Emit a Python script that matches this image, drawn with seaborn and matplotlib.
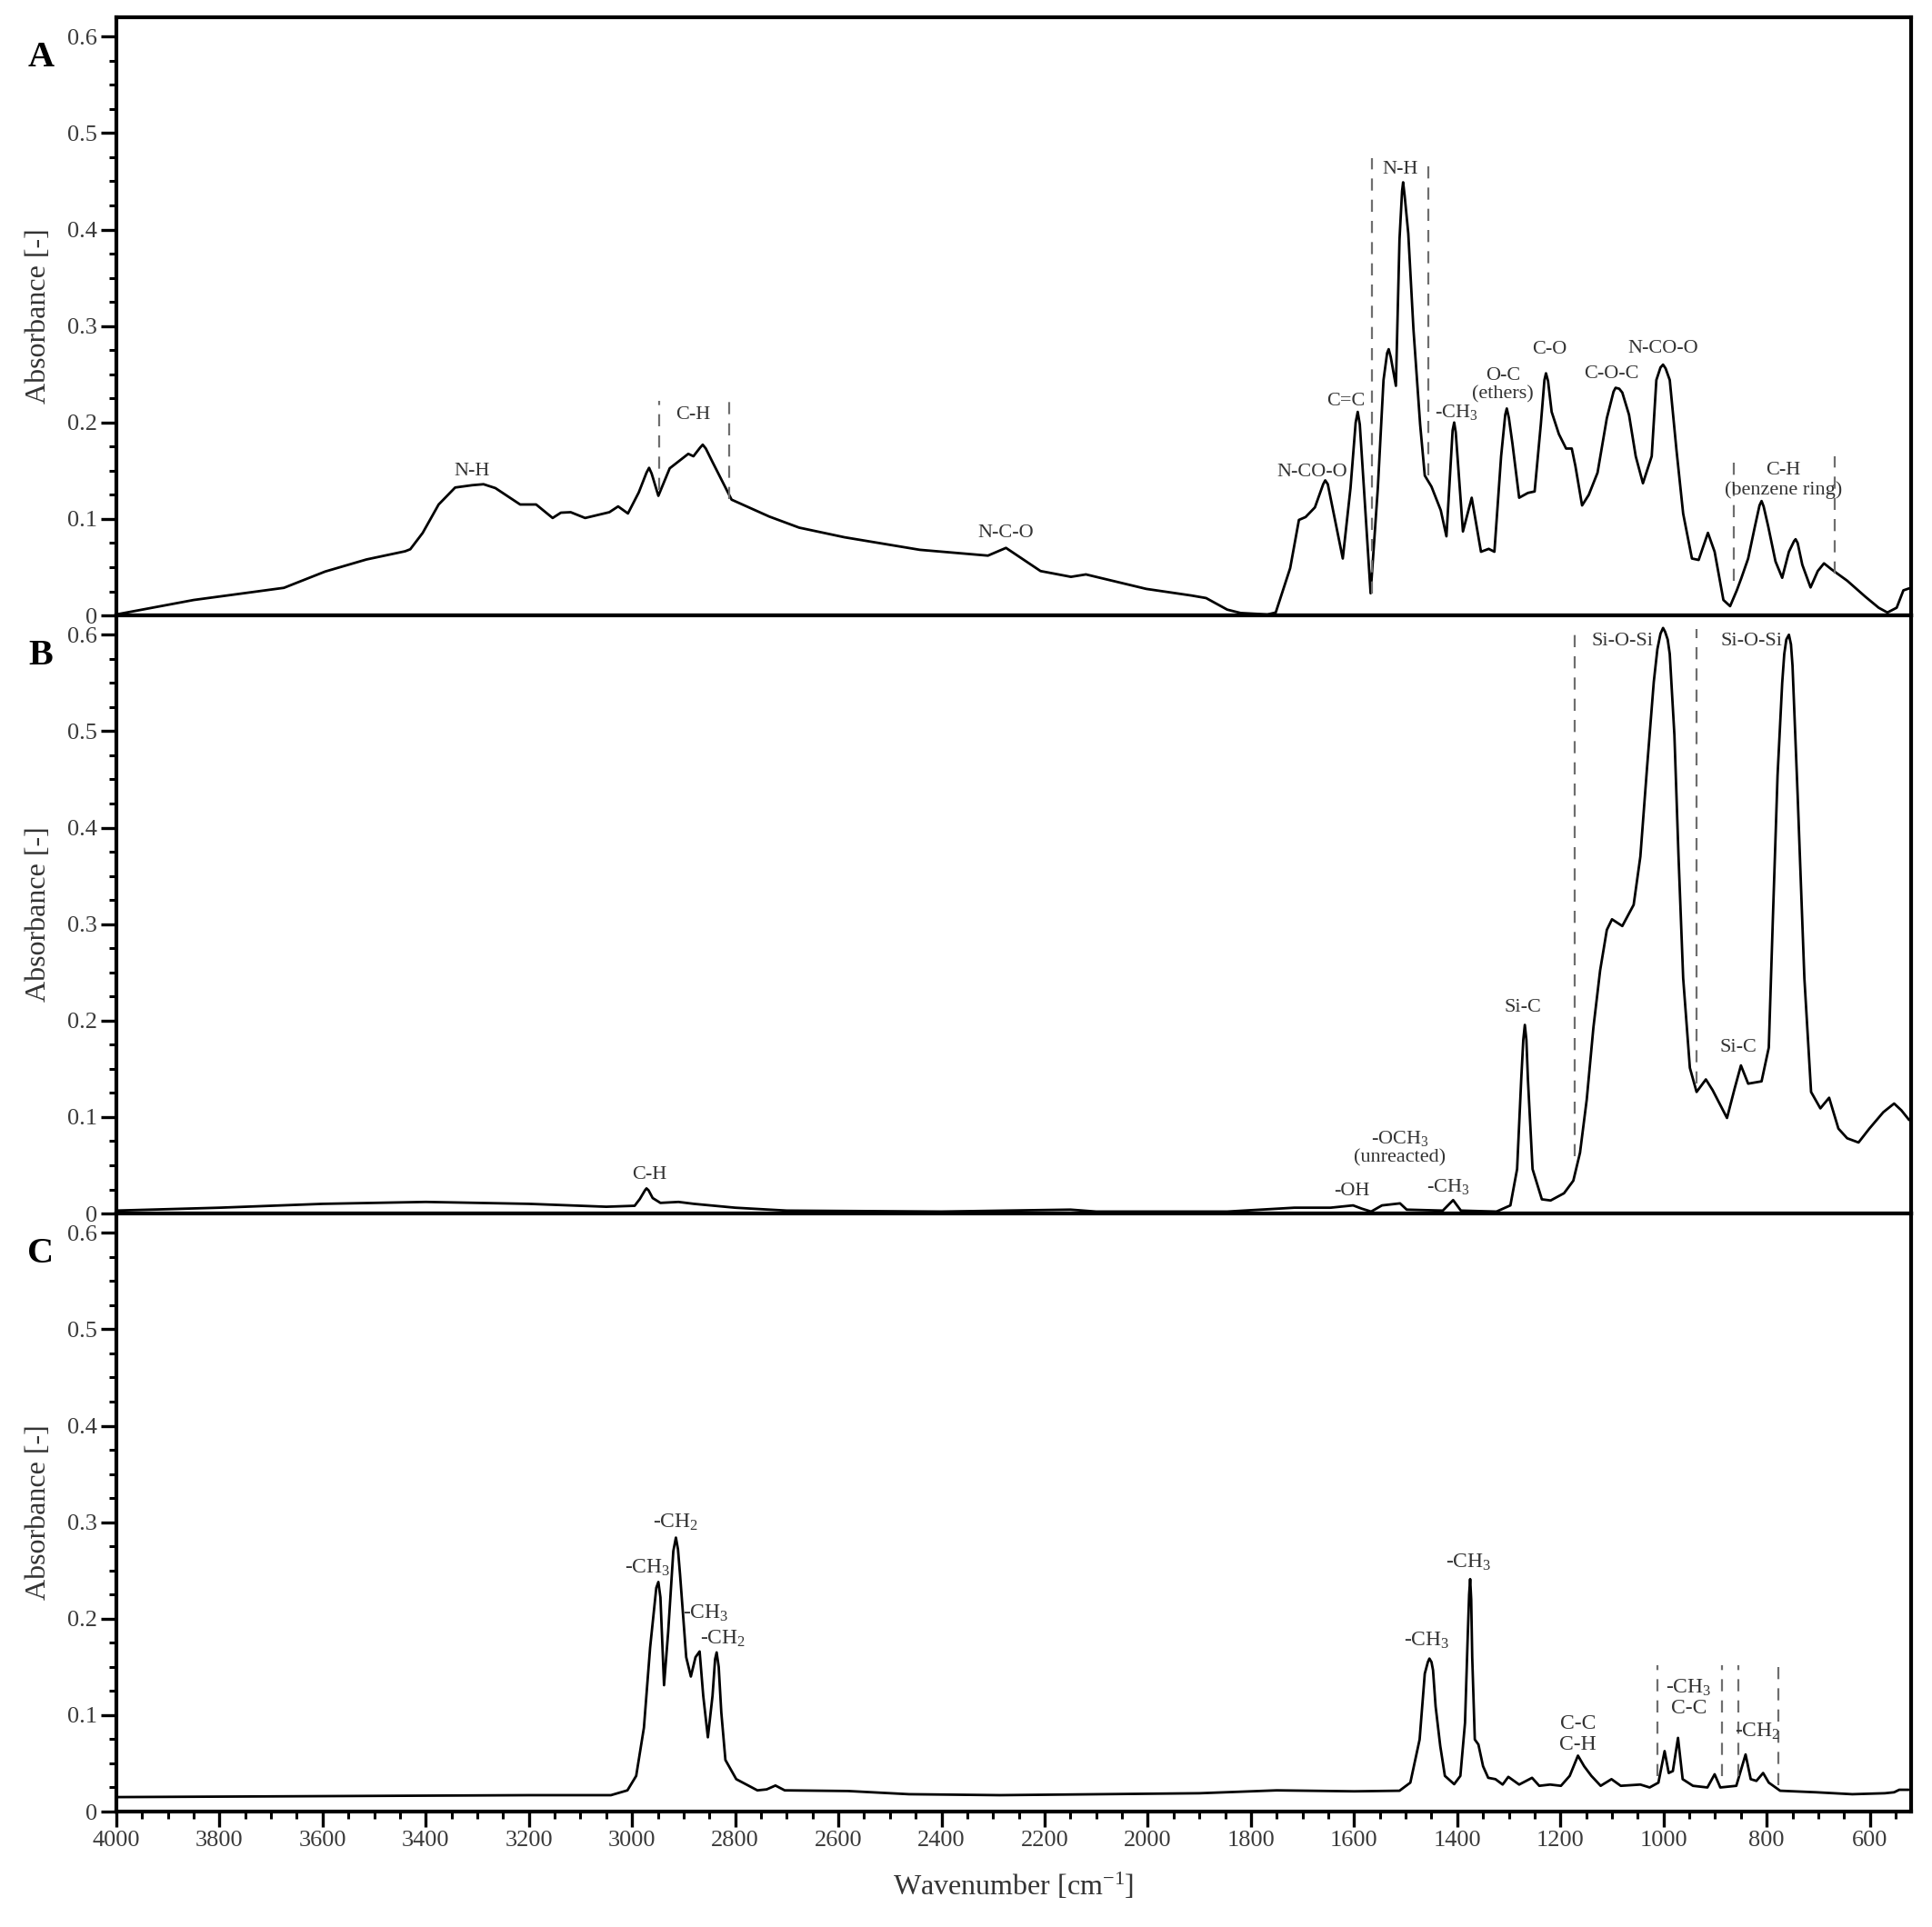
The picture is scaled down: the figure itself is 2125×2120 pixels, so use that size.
import matplotlib
matplotlib.use("Agg")
import matplotlib.pyplot as plt
import seaborn as sns
import pandas as pd
from matplotlib.ticker import MultipleLocator, FixedLocator, FixedFormatter

# ---- spectrum A ----
wn_a = [4000, 3850, 3675, 3595, 3515, 3440, 3430, 3406, 3375, 3343, 3310, 3288, 3265, 3217, 3186,
        3154, 3138, 3119, 3091, 3044, 3027, 3008, 2987, 2972, 2967, 2962, 2949, 2927, 2891, 2881,
        2868, 2863, 2857, 2844, 2807, 2734, 2676, 2588, 2442, 2310, 2275, 2208, 2149, 2120, 2003,
        1915, 1887, 1846, 1820, 1768, 1752, 1724, 1707, 1694, 1676, 1660, 1656, 1651, 1637, 1622,
        1607, 1597, 1593, 1589, 1581, 1568, 1554, 1543, 1536, 1533, 1529, 1519, 1512, 1507, 1505,
        1502, 1495, 1485, 1472, 1463, 1450, 1432, 1421, 1409, 1406, 1403, 1389, 1372, 1354, 1339,
        1328, 1315, 1307, 1304, 1300, 1293, 1280, 1263, 1250, 1238, 1231, 1228, 1224, 1217, 1203,
        1189, 1178, 1171, 1158, 1145, 1128, 1110, 1097, 1093, 1086, 1080, 1067, 1054, 1040, 1023,
        1014, 1006, 1001, 996, 988, 975, 962, 945, 932, 914, 901, 884, 871, 858, 849,
        836, 823, 814, 810, 806, 797, 783, 770, 757, 747, 744, 740, 731, 715, 701,
        689, 674, 644, 609, 583, 566, 548, 535, 524]
abs_a = [0.001, 0.016, 0.0286, 0.0455, 0.058, 0.0665, 0.0686, 0.0855, 0.115, 0.1326, 0.135, 0.136, 0.132, 0.115, 0.115,
         0.101, 0.1065, 0.107, 0.101, 0.107, 0.113, 0.1057, 0.1275, 0.148, 0.153, 0.147, 0.124, 0.1525, 0.1675, 0.165,
         0.174, 0.177, 0.173, 0.159, 0.12, 0.1025, 0.091, 0.081, 0.068, 0.062, 0.070, 0.046, 0.040, 0.0425, 0.0275,
         0.0206, 0.018, 0.006, 0.0025, 0.001, 0.003, 0.049, 0.099, 0.102, 0.112, 0.136, 0.140, 0.136, 0.099, 0.059,
         0.132, 0.200, 0.211, 0.198, 0.132, 0.023, 0.132, 0.244, 0.272, 0.276, 0.268, 0.238, 0.390, 0.440, 0.449,
         0.435, 0.396, 0.297, 0.198, 0.145, 0.1335, 0.109, 0.082, 0.192, 0.200, 0.190, 0.087, 0.122, 0.066, 0.069,
         0.066, 0.165, 0.208, 0.2145, 0.205, 0.178, 0.122, 0.127, 0.1285, 0.198, 0.244, 0.251, 0.243, 0.211, 0.188,
         0.173, 0.173, 0.155, 0.114, 0.125, 0.148, 0.2045, 0.232, 0.236, 0.235, 0.231, 0.208, 0.165, 0.137, 0.165,
         0.244, 0.257, 0.260, 0.256, 0.244, 0.1715, 0.1055, 0.059, 0.0575, 0.0856, 0.066, 0.016, 0.0096, 0.026, 0.039,
         0.059, 0.092, 0.114, 0.1186, 0.113, 0.092, 0.056, 0.039, 0.066, 0.077, 0.079, 0.075, 0.0525, 0.029, 0.046,
         0.054, 0.0476, 0.036, 0.0195, 0.008, 0.003, 0.008, 0.026, 0.028]

# ---- spectrum B ----
wn_b = [4000, 3800, 3600, 3400, 3200, 3050, 2995, 2985, 2975, 2972, 2968, 2960, 2945, 2910, 2880,
        2800, 2700, 2400, 2150, 2100, 1846, 1716, 1646, 1602, 1585, 1567, 1546, 1511, 1498, 1428,
        1408, 1393, 1324, 1297, 1284, 1276, 1272, 1269, 1266, 1263, 1254, 1236, 1219, 1193, 1175,
        1162, 1149, 1136, 1123, 1110, 1100, 1080, 1058, 1045, 1032, 1019, 1012, 1006, 1001, 997,
        992, 988, 979, 971, 962, 949, 936, 918, 905, 877, 862, 850, 836, 810, 796,
        788, 779, 770, 766, 762, 757, 753, 750, 740, 727, 714, 696, 679, 661, 644,
        622, 601, 574, 553, 539, 524]
abs_b = [0.003, 0.006, 0.010, 0.012, 0.010, 0.007, 0.008, 0.015, 0.024, 0.026, 0.024, 0.016, 0.011, 0.012, 0.010,
         0.006, 0.003, 0.002, 0.004, 0.002, 0.002, 0.006, 0.006, 0.0084, 0.005, 0.002, 0.0084, 0.0105, 0.004, 0.003,
         0.0139, 0.003, 0.002, 0.0084, 0.046, 0.139, 0.180, 0.1955, 0.180, 0.139, 0.046, 0.0147, 0.0135, 0.021, 0.034,
         0.063, 0.118, 0.193, 0.252, 0.294, 0.305, 0.298, 0.320, 0.370, 0.4626, 0.551, 0.585, 0.601, 0.607, 0.603,
         0.595, 0.580, 0.496, 0.370, 0.244, 0.151, 0.126, 0.139, 0.128, 0.099, 0.130, 0.1535, 0.1346, 0.137, 0.172,
         0.307, 0.454, 0.550, 0.580, 0.595, 0.600, 0.590, 0.568, 0.433, 0.244, 0.126, 0.109, 0.12, 0.088, 0.078,
         0.0736, 0.088, 0.105, 0.114, 0.107, 0.097]

# ---- spectrum C ----
wn_c = [4000, 3600, 3200, 3041, 3009, 2992, 2977, 2965, 2953, 2949, 2945, 2938, 2930, 2920, 2915,
        2911, 2907, 2895, 2886, 2877, 2869, 2862, 2853, 2844, 2839, 2836, 2832, 2827, 2819, 2798,
        2757, 2739, 2722, 2704, 2581, 2463, 2287, 1900, 1750, 1600, 1512, 1491, 1473, 1463, 1457,
        1454, 1450, 1447, 1442, 1433, 1424, 1406, 1394, 1385, 1380, 1377, 1375, 1373, 1371, 1366,
        1359, 1350, 1340, 1326, 1312, 1301, 1280, 1255, 1241, 1220, 1199, 1182, 1166, 1154, 1140,
        1122, 1101, 1083, 1045, 1027, 1010, 998, 990, 982, 972, 963, 943, 915, 901, 890,
        859, 841, 831, 820, 807, 796, 774, 704, 634, 571, 553, 543, 525]
abs_c = [0.015, 0.016, 0.017, 0.017, 0.022, 0.037, 0.087, 0.170, 0.232, 0.238, 0.222, 0.131, 0.186, 0.270, 0.284,
         0.272, 0.246, 0.160, 0.140, 0.160, 0.166, 0.120, 0.077, 0.120, 0.158, 0.165, 0.150, 0.103, 0.0535, 0.0336,
         0.022, 0.023, 0.027, 0.022, 0.0213, 0.018, 0.017, 0.019, 0.022, 0.021, 0.0216, 0.030, 0.0747, 0.143, 0.155,
         0.1586, 0.155, 0.1466, 0.109, 0.068, 0.037, 0.0284, 0.037, 0.092, 0.177, 0.225, 0.241, 0.220, 0.160, 0.0747,
         0.0695, 0.047, 0.035, 0.0336, 0.028, 0.036, 0.028, 0.035, 0.0267, 0.028, 0.0267, 0.037, 0.058, 0.047, 0.037,
         0.0267, 0.0336, 0.0267, 0.028, 0.025, 0.030, 0.0627, 0.040, 0.042, 0.0764, 0.0336, 0.0267, 0.025, 0.0387, 0.025,
         0.0267, 0.0592, 0.0336, 0.0318, 0.040, 0.030, 0.0216, 0.020, 0.018, 0.019, 0.020, 0.0226, 0.0226]

# band labels: text, wavenumber, absorbance
labels_a = ["N-H", "C-H", "N-C-O", "N-CO-O", "C=C", "N-H", "-CH$_3$", "O-C\n(ethers)", "C-O",
            "C-O-C", "N-CO-O", "C-H\n(benzene ring)"]
lab_wn_a = [3311, 2881, 2275, 1681, 1616, 1511, 1402, 1311, 1221, 1101, 1001, 768]
lab_y_a = [0.149, 0.208, 0.085, 0.148, 0.222, 0.462, 0.2105, 0.239, 0.2756, 0.250, 0.277, 0.140]

labels_b = ["C-H", "-OH", "-OCH$_3$\n(unreacted)", "-CH$_3$", "Si-C", "Si-O-Si", "Si-O-Si", "Si-C"]
lab_wn_b = [2967, 1605, 1511, 1418, 1273, 1080, 829, 855]
lab_y_b = [0.040, 0.023, 0.068, 0.028, 0.2136, 0.593, 0.593, 0.1716]

labels_c = ["-CH$_3$", "-CH$_2$", "-CH$_3$", "-CH$_2$", "-CH$_3$", "-CH$_3$", "C-C\nC-H",
            "-CH$_3$\nC-C", "-CH$_2$"]
lab_wn_c = [2970, 2916, 2858, 2823, 1459, 1378, 1166, 951, 818]
lab_y_c = [0.2525, 0.300, 0.206, 0.179, 0.177, 0.258, 0.080, 0.118, 0.083]

# dashed band limits
dash_wn_a = [2948, 2812, 1565, 1456, 864, 668]
dash_lo_a = [0.13, 0.121, 0.023, 0.145, 0.036, 0.043]
dash_hi_a = [0.222, 0.222, 0.474, 0.472, 0.165, 0.165]
dash_wn_b = [1173, 936]
dash_lo_b = [0.059, 0.135]
dash_hi_b = [0.608, 0.606]
dash_wn_c = [1012, 887, 855, 777]
dash_lo_c = [0.037, 0.037, 0.037, 0.027]
dash_hi_c = [0.152, 0.152, 0.152, 0.150]

panel_names = ["A", "B", "C"]
y_ticks = [0, 0.1, 0.2, 0.3, 0.4, 0.5, 0.6]
y_tick_labels = ["0", "0.1", "0.2", "0.3", "0.4", "0.5", "0.6"]

sns.set_style("ticks")
plt.rcParams["font.family"] = ["Liberation Serif", "DejaVu Serif"]
plt.rcParams["mathtext.fontset"] = "custom"
plt.rcParams["mathtext.rm"] = "Liberation Serif"
plt.rcParams["mathtext.it"] = "Liberation Serif:italic"
plt.rcParams["mathtext.bf"] = "Liberation Serif:bold"

fig, axes = plt.subplots(3, 1, figsize=(21.25, 21.2), dpi=100, sharex=True)
fig.subplots_adjust(left=0.0602, right=0.9892, top=0.991, bottom=0.0599, hspace=0)

spectra = [(wn_a, abs_a), (wn_b, abs_b), (wn_c, abs_c)]
labels = [(labels_a, lab_wn_a, lab_y_a), (labels_b, lab_wn_b, lab_y_b), (labels_c, lab_wn_c, lab_y_c)]
dashes = [(dash_wn_a, dash_lo_a, dash_hi_a), (dash_wn_b, dash_lo_b, dash_hi_b),
          (dash_wn_c, dash_lo_c, dash_hi_c)]
lab_sizes = [16, 16, 17]

for i, ax in enumerate(axes):
    df = pd.DataFrame({"wn": spectra[i][0], "A": spectra[i][1]})
    sns.lineplot(data=df, x="wn", y="A", ax=ax, color="black", lw=2.0,
                 sort=False, estimator=None)

    dw, dlo, dhi = dashes[i]
    ax.vlines(dw, dlo, dhi, colors="#6e6e6e", linestyles=(0, (6, 4.5)), lw=1.6)

    for txt, x, y in zip(*labels[i]):
        ax.text(x, y, txt, ha="center", va="center", fontsize=lab_sizes[i],
                color="#333333", linespacing=1.1)

    ax.set_xlim(4000, 520)
    ax.set_ylim(0, 0.62)
    ax.yaxis.set_major_locator(FixedLocator(y_ticks))
    ax.yaxis.set_major_formatter(FixedFormatter(y_tick_labels))
    ax.yaxis.set_minor_locator(MultipleLocator(0.025))
    ax.xaxis.set_major_locator(MultipleLocator(200))
    ax.xaxis.set_minor_locator(MultipleLocator(50))
    ax.tick_params(axis="both", which="major", direction="out", length=12, width=2.4,
                   labelsize=19, labelcolor="#3a3a3a", pad=3, color="black")
    ax.tick_params(axis="both", which="minor", direction="out", length=6, width=2.2, color="black")
    if i < 2:
        ax.tick_params(axis="x", which="both", bottom=False, labelbottom=False)
    for sp in ax.spines.values():
        sp.set_linewidth(3)
        sp.set_color("black")

    ax.set_ylabel("Absorbance [-]", fontsize=23, color="#333333")
    ax.yaxis.set_label_coords(-0.036, 0.5)
    ax.set_xlabel("")
    ax.text(-0.042, 0.932, panel_names[i], transform=ax.transAxes, ha="center", va="center",
            fontsize=29, fontweight="bold", color="black")

axes[2].set_xlabel("Wavenumber [cm$^{-1}$]", fontsize=23, color="#333333")
axes[2].xaxis.set_label_coords(0.5, -0.1)

fig.savefig("out.png", dpi=100)
